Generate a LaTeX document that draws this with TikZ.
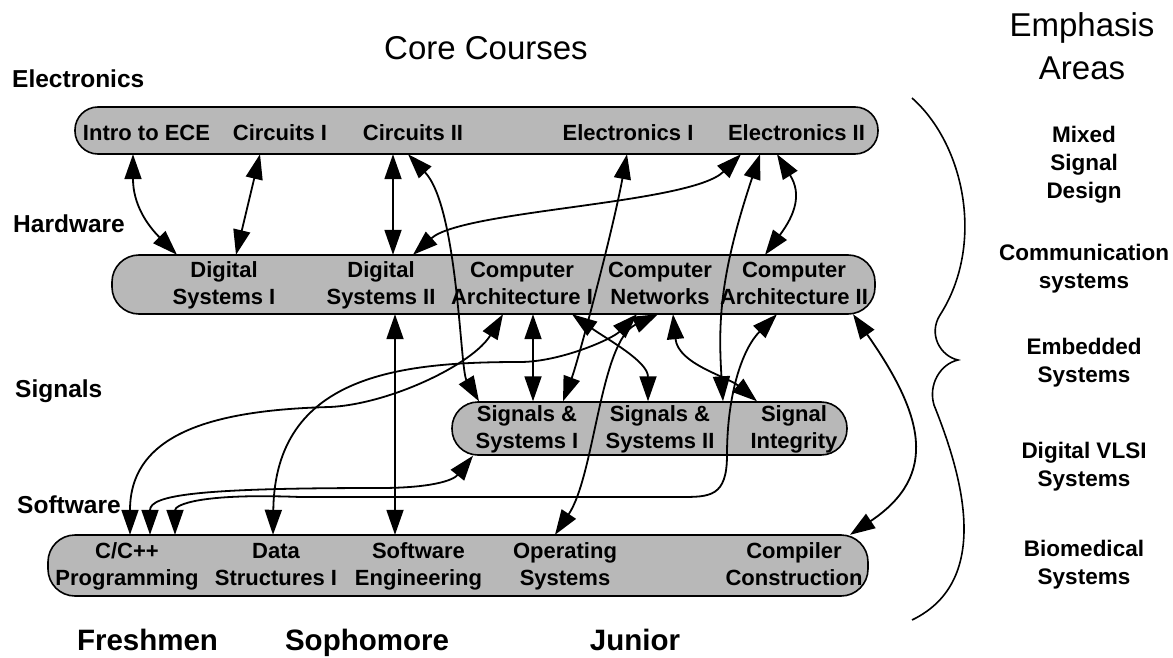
\documentclass[tikz,border=0pt]{standalone}
\usepackage{fontspec}
\setmainfont{Liberation Sans}
\usetikzlibrary{arrows.meta}

% two lines of a course name, with fixed top and bottom
\newcommand{\twolines}[2]{\rule{0pt}{20pt}#1\\#2\rule[-7.5pt]{0pt}{7.5pt}}

\tikzset{
  band/.style={draw, line width=1.6pt, fill=black!28, inner sep=0pt},
  course/.style={font=\fontsize{22}{26.5}\selectfont\bfseries, align=center, inner sep=0pt},
  rowlabel/.style={font=\fontsize{24.5}{28}\selectfont\bfseries, anchor=base west, inner sep=0pt},
  year/.style={font=\fontsize{29.5}{34}\selectfont\bfseries, anchor=base, inner sep=0pt},
  heading/.style={font=\fontsize{33}{43}\selectfont, align=center, inner sep=0pt},
  area/.style={font=\fontsize{22.5}{28}\selectfont\bfseries, align=center, inner sep=0pt},
  link/.style={line width=1.8pt, {Triangle[length=25pt,width=17pt]}-{Triangle[length=25pt,width=17pt]}},
}

\begin{document}
\begin{tikzpicture}[x=1pt, y=-1pt]
  \useasboundingbox (0,0) rectangle (1173,658);

  % headings
  \node[heading, anchor=base] (core) at (486,60) {Core Courses};
  \node[heading] (emph) at (1082,46.5) {Emphasis\\Areas};

  % row labels
  \node[rowlabel] (lblelec) at (12,88) {Electronics};
  \node[rowlabel] (lblhw) at (13,232) {Hardware};
  \node[rowlabel] (lblsig) at (15,397) {Signals};
  \node[rowlabel] (lblsw) at (17,513) {Software};

  % electronics
  \begin{scope}[every node/.append style={minimum height=47pt}]
    \node[band, minimum width=803pt, rounded corners=23pt] (elecband) at (476.5,130.5) {};
    \node[course, text height=21pt, text depth=0pt] (intro) at (146.5,130.5) {Intro to ECE};
    \node[course, text height=21pt, text depth=0pt] (cirone) at (280,130.5) {Circuits I};
    \node[course, text height=21pt, text depth=0pt] (cirtwo) at (413,130.5) {Circuits II};
    \node[course, text height=21pt, text depth=0pt] (elone) at (628,130.5) {Electronics I};
    \node[course, text height=21pt, text depth=0pt] (eltwo) at (796.5,130.5) {Electronics II};
  \end{scope}

  % hardware
  \begin{scope}[every node/.append style={minimum height=59pt}]
    \node[band, minimum width=763pt, rounded corners=27pt] (hwband) at (493.5,284.5) {};
    \node[course] (dsone) at (224,284.5) {\twolines{Digital}{Systems I}};
    \node[course] (dstwo) at (381,284.5) {\twolines{Digital}{Systems II}};
    \node[course] (caone) at (522,284.5) {\twolines{Computer}{Architecture I}};
    \node[course] (net) at (660,284.5) {\twolines{Computer}{Networks}};
    \node[course] (catwo) at (794,284.5) {\twolines{Computer}{Architecture II}};
  \end{scope}

  % signals
  \begin{scope}[every node/.append style={minimum height=53pt}]
    \node[band, minimum width=395pt, rounded corners=26pt] (sigband) at (649.5,428.5) {};
    \node[course] (ssone) at (527,428.5) {\twolines{Signals \&}{Systems I}};
    \node[course] (sstwo) at (660,428.5) {\twolines{Signals \&}{Systems II}};
    \node[course] (sigint) at (794,428.5) {\twolines{Signal}{Integrity}};
  \end{scope}

  % software
  \begin{scope}[every node/.append style={minimum height=61pt}]
    \node[band, minimum width=820pt, rounded corners=27pt] (swband) at (458,565.5) {};
    \node[course] (cpp) at (127,565.5) {\twolines{C/C++}{Programming}};
    \node[course] (datastr) at (276,565.5) {\twolines{Data}{Structures I}};
    \node[course] (softeng) at (418.5,565.5) {\twolines{Software}{Engineering}};
    \node[course] (opsys) at (565,565.5) {\twolines{Operating}{Systems}};
    \node[course] (compiler) at (794,565.5) {\twolines{Compiler}{Construction}};
  \end{scope}

  % prerequisite links
  \draw[link] ([xshift=-13.5pt]intro.south) .. controls +(0,50) and +(-30,-30) .. ([xshift=-47pt]dsone.north);
  \draw[link] ([xshift=-20pt]cirone.south) -- ([xshift=12pt]dsone.north);
  \draw[link] ([xshift=-20pt]cirtwo.south) -- ([xshift=12pt]dstwo.north);
  \draw[link] ([xshift=-5pt]cirtwo.south) .. controls +(50,53) and +(-19,-32) .. ([xshift=-48pt]ssone.north);
  \draw[link] ([xshift=-55.5pt]eltwo.south) .. controls +(-50,50) and +(50,-45) .. ([xshift=32pt]dstwo.north);
  \draw[link] ([xshift=-1pt]elone.south) .. controls +(-15,80) and +(15,-40) .. ([xshift=36pt]ssone.north);
  \draw[link] ([xshift=-36.5pt]eltwo.south) .. controls +(-40,120) and +(-5,-80) .. ([xshift=-71pt]sigint.north);
  \draw[link] ([xshift=-19.5pt]eltwo.south) .. controls +(25,40) and +(30,-40) .. ([xshift=-29pt]catwo.north);
  \draw[link] ([xshift=14pt]dstwo.south) -- ([xshift=-23.5pt]softeng.north);
  \draw[link] ([xshift=-19pt]caone.south) .. controls +(-30,50) and +(60,-3) .. (330,407)
    .. controls +(-120,3) and +(0,-100) .. ([xshift=3pt]cpp.north);
  \draw[link] ([xshift=-23pt]net.south) .. controls +(-25,25) and +(40,0) .. (520,362)
    .. controls +(-120,0) and +(2,-160) .. ([xshift=-3pt]datastr.north);
  \draw[link] ([xshift=-54pt]ssone.south) .. controls +(-20,25) and +(50,0) .. (380,488)
    .. controls +(-180,0) and +(0,-40) .. ([xshift=23pt]cpp.north);
  \draw[link] ([xshift=-17pt]catwo.south) .. controls +(-35,35) and +(0,-60) .. (727,455)
    .. controls +(0,42) and +(30,0) .. (680,497) -- (300,497)
    .. controls +(-100,-4) and +(0,-30) .. ([xshift=48pt]cpp.north);
  \draw[link] ([xshift=-2pt]net.south) .. controls +(-58,27) and +(40,-60) .. ([xshift=-10pt]opsys.north);
  \draw[link] ([xshift=11pt]caone.south) -- ([xshift=6pt]ssone.north);
  \draw[link] ([xshift=50pt]caone.south) .. controls +(35,25) and +(0,-40) .. ([xshift=-12pt]sstwo.north);
  \draw[link] ([xshift=13pt]net.south) .. controls +(5,50) and +(-30,-25) .. ([xshift=-37pt]sigint.north);
  \draw[link] ([xshift=59pt]catwo.south) .. controls +(70,100) and +(90,-60) .. ([xshift=56pt]compiler.north);

  % brace
  \draw[line width=1.6pt] (912,98) .. controls (965,145) and (985,245) .. (940,315)
    .. controls (928,334) and (940,356) .. (958,360)
    .. controls (940,364) and (928,385) .. (934,405)
    .. controls (960,470) and (995,580) .. (912,620);

  % emphasis areas
  \node[area] (mixed) at (1084,164.6) {Mixed\\Signal\\Design};
  \node[area] (comm) at (1084,268.6) {Communication\\systems};
  \node[area] (embed) at (1084,363) {Embedded\\Systems};
  \node[area] (vlsi) at (1084,466.6) {Digital VLSI\\Systems};
  \node[area] (biomed) at (1084,565) {Biomedical\\Systems};

  % years
  \node[year] (fresh) at (147.5,650) {Freshmen};
  \node[year] (soph) at (367,650) {Sophomore};
  \node[year] (junior) at (635,650) {Junior};
\end{tikzpicture}
\end{document}
